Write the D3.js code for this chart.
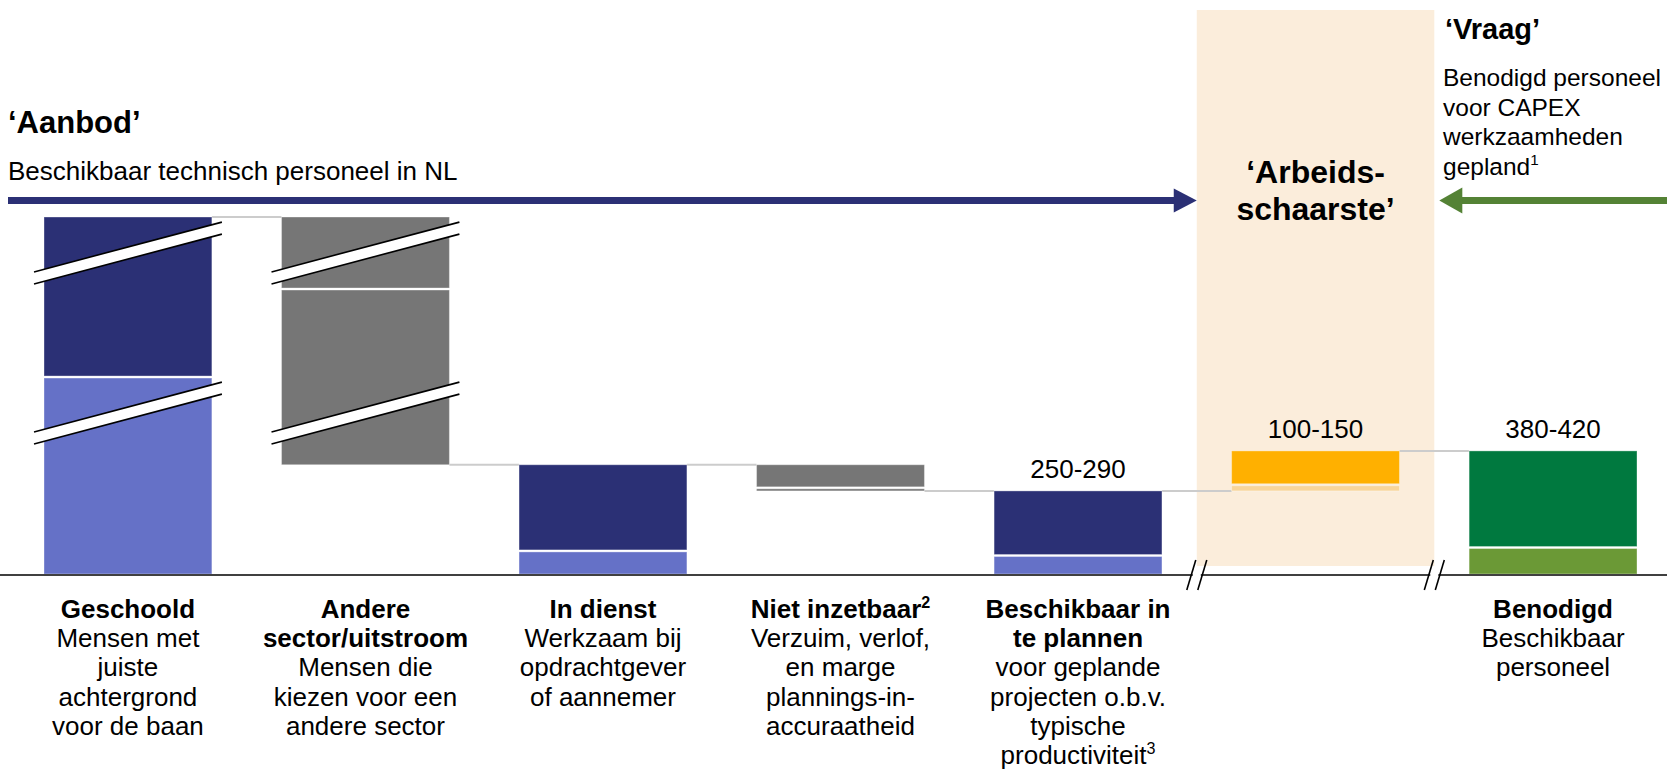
<!DOCTYPE html>
<html>
<head>
<meta charset="utf-8">
<script src="https://cdn.jsdelivr.net/npm/d3@7/dist/d3.min.js"></script>
<style>
  html, body { margin: 0; padding: 0; background: #ffffff; }
  svg { display: block; font-family: "Liberation Sans", Arial, Helvetica, sans-serif; }
</style>
</head>
<body>
<svg id="chart" width="1667" height="779"></svg>
<script>
// ---------------- data ----------------
const categories = ["Geschoold", "Andere sector/uitstroom", "In dienst", "Niet inzetbaar",
                    "Beschikbaar in te plannen", "Arbeidsschaarste", "Benodigd"];
const barKind = ["total", "decrease", "total", "decrease", "total", "increase", "total"];
const lowerValues = [640, 571, 75, 10, 60, 20, 86];
const upperValues = [520, 234, 280, 75, 210, 110, 314];
const valueLabels = ["", "", "", "", "250-290", "100-150", "380-420"];
const brokenCategories = ["Geschoold", "Andere sector/uitstroom"];
const breakLevels = [1043, 523];
const labelBold = [
  ["Geschoold"],
  ["Andere", "sector/uitstroom"],
  ["In dienst"],
  ["Niet inzetbaar²"],
  ["Beschikbaar in", "te plannen"],
  [],
  ["Benodigd"]
];
const labelNormal = [
  ["Mensen met", "juiste", "achtergrond", "voor de baan"],
  ["Mensen die", "kiezen voor een", "andere sector"],
  ["Werkzaam bij", "opdrachtgever", "of aannemer"],
  ["Verzuim, verlof,", "en marge", "plannings-in-", "accuraatheid"],
  ["voor geplande", "projecten o.b.v.", "typische", "productiviteit³"],
  [],
  ["Beschikbaar", "personeel"]
];
const supplyTitle = "‘Aanbod’";
const supplyText = "Beschikbaar technisch personeel in NL";
const demandTitle = "‘Vraag’";
const demandText = ["Benodigd personeel", "voor CAPEX", "werkzaamheden", "gepland¹"];
const gapTitle = ["‘Arbeids-", "schaarste’"];

// ---------------- styles ----------------
const lowerColors = ["#6571c7", "#767676", "#6571c7", "#767676", "#6571c7", "#f8d59a", "#6b9936"];
const upperColors = ["#2b3075", "#767676", "#2b3075", "#767676", "#2b3075", "#ffb000", "#00793f"];
const navy = "#2b3075", green = "#548235", beige = "#fbeddb";

// ---------------- helpers ----------------
const supMap = { "¹": "1", "²": "2", "³": "3" };
function addLine(textSel, str, xPos, yPos, bold, size) {
  const m = str.match(/^(.*?)([¹²³]?)$/);
  const ts = textSel.append("tspan").attr("x", xPos).attr("y", yPos).text(m[1]);
  if (bold) ts.attr("font-weight", "bold");
  if (m[2]) {
    const s = textSel.append("tspan").attr("dy", -size * 0.38).attr("font-size", size * 0.62).text(supMap[m[2]]);
    if (bold) s.attr("font-weight", "bold");
  }
}

// ---------------- derived waterfall ----------------
const totals = lowerValues.map((v, i) => v + upperValues[i]);
const bases = barKind.map((k, i) => {
  if (k === "total") return 0;
  if (k === "decrease") return totals[i + 1];
  return totals[i - 1];
});
const bars = categories.map((c, i) => ({
  cat: c, i, kind: barKind[i], base: bases[i],
  mid: bases[i] + lowerValues[i], top: bases[i] + totals[i]
}));

// ---------------- scales ----------------
const W = 1667, H = 779;
const svg = d3.select("#chart");
const x = d3.scaleBand().domain(categories).range([44, 1637]).paddingInner(0.2932).paddingOuter(0);
const y = d3.scaleLinear().domain([0, 1160]).range([574, 217]);
const bw = x.bandwidth();

// shortage band
const gapL = x(categories[4]) + bw + (x(categories[5]) - x(categories[4]) - bw) / 2;
const gapR = x(categories[5]) + bw + (x(categories[6]) - x(categories[5]) - bw) / 2;
svg.append("rect").attr("x", gapL).attr("y", 10).attr("width", gapR - gapL).attr("height", 556)
  .attr("fill", beige);

// connectors
const endLevel = b => b.kind === "decrease" ? b.base : b.top;
for (let i = 0; i < bars.length - 1; i++) {
  const lv = endLevel(bars[i]);
  svg.append("line")
    .attr("x1", x(bars[i].cat) + bw).attr("x2", x(bars[i + 1].cat))
    .attr("y1", y(lv)).attr("y2", y(lv))
    .attr("stroke", "#cccccc").attr("stroke-width", 2);
}

// bars (two segments with white gap)
const g = svg.append("g");
bars.forEach((b, i) => {
  const x0 = x(b.cat);
  g.append("rect").attr("x", x0).attr("width", bw)
    .attr("y", y(b.mid) + 1).attr("height", Math.max(0, y(b.base) - y(b.mid) - 1))
    .attr("fill", lowerColors[i]).attr("stroke", "#ffffff").attr("stroke-opacity", 0.35).attr("stroke-width", 1);
  g.append("rect").attr("x", x0).attr("width", bw)
    .attr("y", y(b.top)).attr("height", Math.max(0, y(b.mid) - y(b.top) - 1))
    .attr("fill", upperColors[i]).attr("stroke", "#ffffff").attr("stroke-opacity", 0.35).attr("stroke-width", 1);
  if (valueLabels[i]) {
    svg.append("text").attr("x", x0 + bw / 2).attr("y", y(b.top) - 13)
      .attr("text-anchor", "middle").attr("font-size", 26).attr("fill", "#000")
      .text(valueLabels[i]);
  }
});

// scale breaks on the broken bars
const slope = 0.265, half = 6, ext = 10;
brokenCategories.forEach(c => {
  const x0 = x(c), cx = x0 + bw / 2, xl = x0 - ext, xr = x0 + bw + ext;
  breakLevels.forEach(lv => {
    const cy = y(lv);
    const yl = cy + slope * (cx - xl), yr = cy - slope * (xr - cx);
    svg.append("polygon")
      .attr("points", [[xl, yl - half], [xr, yr - half], [xr, yr + half], [xl, yl + half]].map(p => p.join(",")).join(" "))
      .attr("fill", "#ffffff");
    [-half, half].forEach(o => {
      svg.append("line").attr("x1", xl).attr("y1", yl + o).attr("x2", xr).attr("y2", yr + o)
        .attr("stroke", "#000").attr("stroke-width", 1.6);
    });
  });
});

// baseline axis
const y0 = y(0) + 1;
svg.append("line").attr("x1", 0).attr("x2", W).attr("y1", y0).attr("y2", y0)
  .attr("stroke", "#000").attr("stroke-width", 1.6);
[gapL, gapR].forEach(cx => {
  svg.append("rect").attr("x", cx - 4).attr("y", y0 - 2).attr("width", 8).attr("height", 4).attr("fill", "#fff");
  [-5.5, 5.5].forEach(o => {
    svg.append("line").attr("x1", cx + o - 4.5).attr("y1", y0 + 15).attr("x2", cx + o + 4.5).attr("y2", y0 - 15)
      .attr("stroke", "#000").attr("stroke-width", 1.6);
  });
});

// category labels
const lineH = 29.2, firstBase = 618, labelSize = 26;
categories.forEach((c, i) => {
  const cx = x(c) + bw / 2;
  const t = svg.append("text").attr("text-anchor", "middle").attr("font-size", labelSize).attr("fill", "#000");
  let k = 0;
  labelBold[i].forEach(s => addLine(t, s, cx, firstBase + lineH * k++, true, labelSize));
  labelNormal[i].forEach(s => addLine(t, s, cx, firstBase + lineH * k++, false, labelSize));
});

// supply header + arrow
svg.append("text").attr("x", 8).attr("y", 133).attr("font-size", 31).attr("font-weight", "bold").text(supplyTitle);
svg.append("text").attr("x", 8).attr("y", 180).attr("font-size", 26).text(supplyText);
const arrowY = 200.5;
svg.append("line").attr("x1", 8).attr("x2", gapL - 22).attr("y1", arrowY).attr("y2", arrowY)
  .attr("stroke", navy).attr("stroke-width", 7);
svg.append("polygon")
  .attr("points", `${gapL - 23},${arrowY - 12} ${gapL},${arrowY} ${gapL - 23},${arrowY + 12}`)
  .attr("fill", navy);

// demand header + arrow
svg.append("text").attr("x", 1445).attr("y", 39).attr("font-size", 29).attr("font-weight", "bold").text(demandTitle);
const dt = svg.append("text").attr("font-size", 24.5).attr("fill", "#000");
demandText.forEach((s, k) => addLine(dt, s, 1443, 86 + 29.5 * k, false, 24.5));
svg.append("line").attr("x1", gapR + 26).attr("x2", W).attr("y1", arrowY).attr("y2", arrowY)
  .attr("stroke", green).attr("stroke-width", 7);
svg.append("polygon")
  .attr("points", `${gapR + 28},${arrowY - 13} ${gapR + 5},${arrowY} ${gapR + 28},${arrowY + 13}`)
  .attr("fill", green);

// shortage title
const gt = svg.append("text").attr("text-anchor", "middle").attr("font-size", 32).attr("font-weight", "bold");
gapTitle.forEach((s, k) => gt.append("tspan").attr("x", (gapL + gapR) / 2).attr("y", 183 + 37 * k).text(s));
</script>
</body>
</html>
